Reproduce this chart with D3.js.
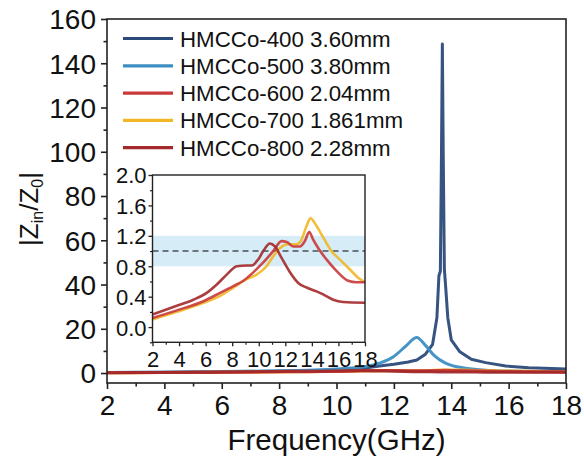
<!DOCTYPE html>
<html><head><meta charset="utf-8">
<script src="https://cdn.jsdelivr.net/npm/d3@7"></script>
<style>body{margin:0;background:#fff}svg{display:block;font-family:"Liberation Sans",Arial,sans-serif}</style>
</head><body><svg id="c" width="584" height="463"></svg>
<script>
const seriesNames = ["HMCCo-400 3.60mm","HMCCo-500 3.80mm","HMCCo-600 2.04mm","HMCCo-700 1.861mm","HMCCo-800 2.28mm"];
const seriesColors = ["#2b4a7a","#3d8fc3","#c9393a","#f1b726","#a3292b"];
const xTicksMain = [2,4,6,8,10,12,14,16,18];
const yTicksMain = [0,20,40,60,80,100,120,140,160];
const xTicksInset = [2,4,6,8,10,12,14,16,18];
const yTicksInset = [0.0,0.4,0.8,1.2,1.6,2.0];

const f400 = [2,4,6,8,9,10,11,11.5,12,12.5,12.8,13.1,13.35,13.5,13.57,13.62,13.66,13.69,13.72,13.76,13.8,13.88,14.0,14.3,14.7,15.2,15.9,16.7,17.5,18];
const v400 = [0.2,0.35,0.55,0.8,1.0,1.4,2.3,3.2,4.0,5.0,5.9,8.5,13,25,44,46,100,148.7,100,47,40,25,15,9.6,6.2,4.7,3.2,2.4,2.0,1.8];
const f500 = [2,4,6,8,9,10,10.5,11,11.5,12,12.4,12.8,13.1,13.4,13.8,14.5,15.3,16,17,18];
const v500 = [0.2,0.4,0.7,1.0,1.3,1.8,2.3,3.0,4.5,7.5,12,16.1,12.5,8,4.5,2.2,1.2,0.9,0.7,0.6];
const f600 = [2,3.83,5.83,7.09,8.09,8.84,9.59,10.34,11.09,11.72,12.1,12.6,13.1,13.47,13.8,14.1,14.47,15.1,15.85,16.73,17.36,18];
const v600 = [0.12,0.22,0.34,0.45,0.54,0.61,0.72,0.85,1.0,1.13,1.12,1.06,1.06,1.13,1.25,1.15,1.04,0.89,0.74,0.61,0.59,0.59];
const f700 = [2,3.83,5.83,7.09,8.09,9.09,9.84,10.59,11.09,11.6,12.22,12.85,13.22,13.6,13.9,14.35,14.85,15.47,16.1,16.85,17.48,18];
const v700 = [0.10,0.20,0.32,0.41,0.52,0.63,0.69,0.80,0.93,1.04,1.09,1.09,1.15,1.33,1.43,1.33,1.18,1.0,0.89,0.76,0.65,0.59];
const f800 = [2,3.83,5.08,6.08,6.84,7.59,8.34,9.09,9.47,9.96,10.34,10.84,11.22,11.72,12.35,12.97,13.6,14.35,14.85,15.6,16.35,18];
const v800 = [0.167,0.28,0.36,0.45,0.56,0.69,0.80,0.81,0.81,0.89,1.0,1.10,1.06,0.91,0.72,0.58,0.52,0.47,0.43,0.36,0.33,0.32];
const bandLow = 0.8, bandHigh = 1.2, refLine = 1.0;

const zip = (f,v)=>f.map((x,i)=>({x,y:v[i]}));
const data = [zip(f400,v400),zip(f500,v500),zip(f600,v600),zip(f700,v700),zip(f800,v800)];
const drawOrder = [0,1,3,2,4];

const svg = d3.select("#c");
const M = {l:107,r:566,t:19,b:383};
const x = d3.scaleLinear().domain([2,18]).range([M.l,M.r]);
const y = d3.scaleLinear().domain([-4.5,160]).range([M.b,M.t]);

svg.append("defs").append("clipPath").attr("id","mc").append("rect")
  .attr("x",M.l).attr("y",M.t).attr("width",M.r-M.l).attr("height",M.b-M.t);

const gm = svg.append("g").attr("clip-path","url(#mc)");
drawOrder.forEach(i=>{
  const line = d3.line().x(d=>x(d.x)).y(d=>y(d.y)).curve(i===0?d3.curveLinear:d3.curveMonotoneX);
  gm.append("path").datum(data[i]).attr("d",line).attr("fill","none")
    .attr("stroke",seriesColors[i]).attr("stroke-width",3).attr("stroke-linejoin","round").attr("opacity",0.95);
});

svg.append("rect").attr("x",M.l).attr("y",M.t).attr("width",M.r-M.l).attr("height",M.b-M.t)
  .attr("fill","none").attr("stroke","#222").attr("stroke-width",1.6);

function styleAxis(g,fs){
  g.selectAll(".domain").remove();
  g.selectAll("line").attr("stroke","#222").attr("stroke-width",1.6);
  g.selectAll("text").attr("fill","#111").style("font-size",fs+"px");
}
const xAx = svg.append("g").attr("transform",`translate(0,${M.b})`)
  .call(d3.axisBottom(x).tickValues(xTicksMain).tickFormat(d3.format("d")).tickSize(6).tickPadding(6));
styleAxis(xAx,28);
const xMin = svg.append("g").attr("transform",`translate(0,${M.b})`)
  .call(d3.axisBottom(x).tickValues(d3.range(3,18,2)).tickFormat("").tickSize(3.5));
styleAxis(xMin,10);
const yAx = svg.append("g").attr("transform",`translate(${M.l},0)`)
  .call(d3.axisLeft(y).tickValues(yTicksMain).tickFormat(d3.format("d")).tickSize(6).tickPadding(5));
styleAxis(yAx,28);
yAx.selectAll("text").attr("dy","0.35em");
const yMin = svg.append("g").attr("transform",`translate(${M.l},0)`)
  .call(d3.axisLeft(y).tickValues(d3.range(10,160,20)).tickFormat("").tickSize(3.5));
styleAxis(yMin,10);

svg.append("text").attr("x",(M.l+M.r)/2).attr("y",450).attr("text-anchor","middle")
  .style("font-size","29.5px").attr("fill","#111").text("Frequency(GHz)");
const yl = svg.append("text").attr("transform",`translate(38,${(M.t+M.b)/2 + 8}) rotate(-90)`)
  .attr("text-anchor","middle").style("font-size","26px").attr("fill","#111");
yl.append("tspan").text("|Z");
yl.append("tspan").text("in").style("font-size","16px").attr("dy","5");
yl.append("tspan").text("/Z").attr("dy","-5");
yl.append("tspan").text("0").style("font-size","16px").attr("dy","5");
yl.append("tspan").text("|").attr("dy","-5");

seriesNames.forEach((n,i)=>{
  const yy = 38.5 + i*27.3;
  svg.append("line").attr("x1",123).attr("x2",173).attr("y1",yy).attr("y2",yy)
    .attr("stroke",seriesColors[i]).attr("stroke-width",3.2);
  svg.append("text").attr("x",180).attr("y",yy).attr("dy","0.36em")
    .style("font-size","22.3px").attr("fill","#111").text(n);
});

const I = {l:152.5,r:365,t:175,b:342.3};
const xi = d3.scaleLinear().domain([2,18]).range([I.l,I.r]);
const yi = d3.scaleLinear().domain([-0.2,2.0]).range([I.b,I.t]);
svg.append("rect").attr("x",I.l).attr("y",I.t).attr("width",I.r-I.l).attr("height",I.b-I.t).attr("fill","#fff");
svg.select("defs").append("clipPath").attr("id","ic").append("rect")
  .attr("x",I.l).attr("y",I.t).attr("width",I.r-I.l).attr("height",I.b-I.t);
const gi = svg.append("g").attr("clip-path","url(#ic)");
gi.append("rect").attr("x",I.l).attr("width",I.r-I.l).attr("y",yi(bandHigh)).attr("height",yi(bandLow)-yi(bandHigh))
  .attr("fill","#d6ecf6");
gi.append("line").attr("x1",I.l).attr("x2",I.r).attr("y1",yi(refLine)).attr("y2",yi(refLine))
  .attr("stroke","#4a4f57").attr("stroke-width",1.5).attr("stroke-dasharray","6,4");
[3,2,4].forEach(i=>{
  const line = d3.line().x(d=>xi(d.x)).y(d=>yi(d.y)).curve(d3.curveMonotoneX);
  gi.append("path").datum(data[i]).attr("d",line).attr("fill","none")
    .attr("stroke",seriesColors[i]).attr("stroke-width",2.6).attr("stroke-linejoin","round").attr("opacity",0.9);
});
svg.append("rect").attr("x",I.l).attr("y",I.t).attr("width",I.r-I.l).attr("height",I.b-I.t)
  .attr("fill","none").attr("stroke","#222").attr("stroke-width",1.4);
const xiAx = svg.append("g").attr("transform",`translate(0,${I.b})`)
  .call(d3.axisBottom(xi).tickValues(xTicksInset).tickFormat(d3.format("d")).tickSize(4).tickPadding(5));
styleAxis(xiAx,22);
xiAx.selectAll("line").attr("stroke-width",1.3);
const xiMin = svg.append("g").attr("transform",`translate(0,${I.b})`)
  .call(d3.axisBottom(xi).tickValues(d3.range(3,18,2)).tickFormat("").tickSize(2.5));
styleAxis(xiMin,10); xiMin.selectAll("line").attr("stroke-width",1.2);
const yiAx = svg.append("g").attr("transform",`translate(${I.l},0)`)
  .call(d3.axisLeft(yi).tickValues(yTicksInset).tickFormat(d3.format(".1f")).tickSize(4).tickPadding(2));
styleAxis(yiAx,22);
yiAx.selectAll("line").attr("stroke-width",1.3);
yiAx.selectAll("text").attr("dy","0.36em");
const yiMin = svg.append("g").attr("transform",`translate(${I.l},0)`)
  .call(d3.axisLeft(yi).tickValues([-0.2,0.2,0.6,1.0,1.4,1.8]).tickFormat("").tickSize(2.5));
styleAxis(yiMin,10); yiMin.selectAll("line").attr("stroke-width",1.2);
</script></body></html>
